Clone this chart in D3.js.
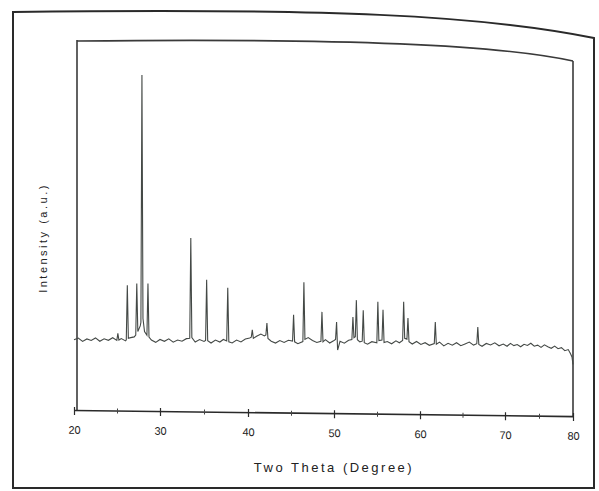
<!DOCTYPE html>
<html>
<head>
<style>
  body { margin: 0; background: #fff; }
  text { font-family: "Liberation Sans", Arial, sans-serif; fill: #222; }
</style>
</head>
<body>

<script src="https://d3js.org/d3.v7.min.js"></script>
<script>

const width = 599;
const height = 491;

// tick labels on the two theta axis
const majorTicks = [20, 30, 40, 50, 60, 70, 80];
const minorTicks = [25, 35, 45, 55, 65, 75];

const tickPixels = [74, 160, 248, 334, 420, 505, 573];

// two theta (degree) of the profile points
const twoTheta = [
  20.0, 20.5, 21.0, 21.5, 22.0, 22.5, 23.0, 23.5, 24.0, 24.5,
  24.98, 25.1, 25.22, 25.5, 26.0, 26.08, 26.2, 26.32, 26.6, 27.0,
  27.18, 27.3, 27.42, 27.7, 27.78, 27.9, 28.02, 28.2, 28.48, 28.6,
  28.72, 29.0, 29.5, 30.0, 30.5, 31.0, 31.5, 32.0, 32.5, 33.0,
  33.38, 33.5, 33.62, 34.0, 34.5, 35.0, 35.18, 35.3, 35.42, 35.8,
  36.3, 36.8, 37.2, 37.58, 37.7, 37.82, 38.2, 38.7, 39.2, 39.7,
  40.2, 40.38, 40.5, 40.62, 41.0, 41.5, 41.9, 42.08, 42.2, 42.32,
  42.7, 43.2, 43.7, 44.2, 44.7, 45.18, 45.3, 45.42, 45.8, 46.38,
  46.5, 46.62, 47.0, 47.5, 48.0, 48.48, 48.6, 48.72, 49.0, 49.5,
  50.0, 50.18, 50.3, 50.42, 50.7, 51.2, 51.7, 52.08, 52.2, 52.32,
  52.48, 52.6, 52.72, 53.0, 53.28, 53.4, 53.52, 53.9, 54.4, 54.98,
  55.1, 55.22, 55.58, 55.7, 55.82, 56.2, 56.7, 57.2, 57.6, 57.98,
  58.1, 58.22, 58.48, 58.6, 58.72, 59.1, 59.6, 60.1, 60.6, 61.1,
  61.68, 61.8, 61.92, 62.3, 62.8, 63.3, 63.8, 64.3, 64.8, 65.3,
  65.8, 66.3, 66.68, 66.8, 66.92, 67.3, 67.8, 68.3, 68.8, 69.3,
  69.8, 70.3, 70.8, 71.3, 71.8, 72.3, 72.8, 73.3, 73.8, 74.3,
  74.8, 75.3, 75.8, 76.3, 76.8, 77.3, 77.8, 78.3, 78.8, 79.3,
  79.6, 79.85, 80.0
];

// intensity (a.u.) at those points
const intensity = [
  190, 195, 186, 193, 189, 196, 187, 194, 190, 197,
  190, 209, 191, 195, 189, 192, 340, 196, 198, 200,
  205, 345, 215, 230, 240, 910, 250, 215, 205, 345,
  200, 192, 186, 194, 189, 196, 187, 193, 190, 197,
  198, 470, 200, 188, 195, 190, 193, 357, 192, 186,
  194, 189, 196, 192, 336, 190, 187, 195, 190, 198,
  201, 203, 223, 200, 206, 212, 207, 210, 242, 200,
  193, 188, 195, 190, 196, 194, 265, 192, 187, 193,
  354, 199, 204, 196, 191, 194, 274, 193, 199, 190,
  197, 200, 247, 171, 195, 190, 198, 200, 261, 205,
  208, 307, 200, 194, 196, 280, 192, 188, 195, 192,
  303, 198, 200, 282, 193, 196, 190, 198, 193, 199,
  304, 205, 203, 260, 196, 190, 197, 189, 194, 187,
  192, 250, 190, 196, 186, 193, 188, 195, 187, 192,
  197, 189, 193, 238, 191, 186, 194, 190, 196, 188,
  193, 187, 195, 189, 192, 186, 193, 190, 196, 188,
  191, 185, 192, 187, 183, 189, 182, 185, 177, 180,
  170, 160, 140
];

const profile = twoTheta.map((t, i) => ({ t: t, v: intensity[i] }));

const svg = d3.select('body')
              .append('svg')
              .attr('width', width)
              .attr('height', height);

// outer frame of the scanned page, top edge bends down to the right
svg.append('path')
   .attr('d', 'M13,488 L13,12 C330,8 480,15 594,38 L594,488 Z')
   .attr('fill', 'none')
   .attr('stroke', '#2a2a2a')
   .attr('stroke-width', 2);

const x = d3.scaleLinear()
            .domain(majorTicks)
            .range(tickPixels);

const y = d3.scaleLinear()
            .domain([0, 1000])
            .range([410, 41]);

// inner box top edge, also bent
svg.append('path')
   .attr('d', 'M77,41 C350,38 500,45 573,61')
   .attr('fill', 'none')
   .attr('stroke', '#3a3a3a')
   .attr('stroke-width', 1.6);

// the plot sinks a few pixels to the right in the scan
const plot = svg.append('g')
                .attr('transform', 'translate(76,410) skewY(0.7) translate(-76,-410)');

plot.append('line')
    .attr('x1', 77).attr('x2', 77)
    .attr('y1', 40).attr('y2', 410)
    .attr('stroke', '#3a3a3a')
    .attr('stroke-width', 1.6);

plot.append('line')
    .attr('x1', 573).attr('x2', 573)
    .attr('y1', 55).attr('y2', 410)
    .attr('stroke', '#3a3a3a')
    .attr('stroke-width', 1.6);

const line = d3.line()
               .x(d => x(d.t))
               .y(d => y(d.v));

plot.append('path')
    .datum(profile)
    .attr('d', line)
    .attr('fill', 'none')
    .attr('stroke', '#444946')
    .attr('stroke-width', 1.1);

// x axis, ticks cross the line
const axisG = plot.append('g').attr('transform', 'translate(0,410)');

axisG.append('g')
     .call(d3.axisBottom(x).tickValues(majorTicks).tickSize(5).tickSizeOuter(0).tickPadding(11))
     .call(g => g.select('.domain').attr('stroke', '#2a2a2a').attr('stroke-width', 1.6))
     .call(g => g.selectAll('.tick line').attr('stroke', '#2a2a2a').attr('stroke-width', 1.2))
     .call(g => g.selectAll('text')
                 .attr('font-size', 11)
                 .attr('font-family', '"Liberation Sans", Arial, sans-serif')
                 .attr('fill', '#222'));

axisG.append('g')
     .call(d3.axisTop(x).tickValues(majorTicks).tickSize(3).tickSizeOuter(0).tickFormat(''))
     .call(g => g.select('.domain').remove())
     .call(g => g.selectAll('.tick line').attr('stroke', '#2a2a2a').attr('stroke-width', 1.2));

axisG.append('g')
     .call(d3.axisBottom(x).tickValues(minorTicks).tickSize(3).tickSizeOuter(0).tickFormat(''))
     .call(g => g.select('.domain').remove())
     .call(g => g.selectAll('.tick line').attr('stroke', '#444'));

axisG.append('g')
     .call(d3.axisTop(x).tickValues(minorTicks).tickSize(2).tickSizeOuter(0).tickFormat(''))
     .call(g => g.select('.domain').remove())
     .call(g => g.selectAll('.tick line').attr('stroke', '#444'));

svg.append('text')
   .attr('x', 334)
   .attr('y', 472)
   .attr('text-anchor', 'middle')
   .attr('font-size', 13)
   .attr('letter-spacing', 2.5)
   .text('Two Theta (Degree)');

svg.append('text')
   .attr('transform', 'translate(47,238) rotate(-90)')
   .attr('text-anchor', 'middle')
   .attr('font-size', 11)
   .attr('letter-spacing', 2.5)
   .text('Intensity (a.u.)');

</script>
</body>
</html>
